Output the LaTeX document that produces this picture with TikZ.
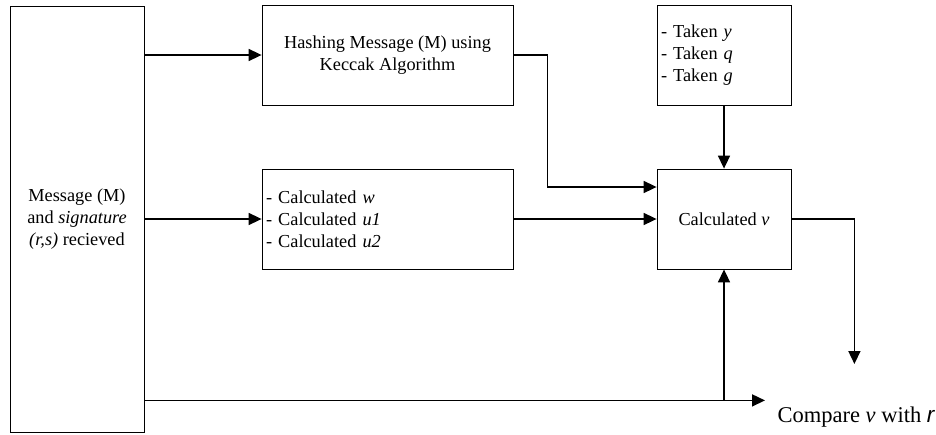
\documentclass[tikz,border=0pt]{standalone}
\usepackage{fontspec}
\setmainfont{Liberation Serif}
\setsansfont{Liberation Sans}
\usepackage{tikz}
\usetikzlibrary{calc,arrows.meta}
\tikzstyle{block} = [draw, line width=0.8pt, minimum height=100pt, inner sep=4pt,
  font=\fontsize{18.3}{22}\selectfont]
\tikzstyle{wide} = [minimum width=251pt]
\tikzstyle{narrow} = [minimum width=134pt]
\tikzstyle{list} = [align=left]
\tikzstyle{flow} = [draw, line width=1.6pt]
\tikzstyle{short} = [node distance = 164pt]
\tikzstyle{terminal} = [draw=none, font=\fontsize{22.5}{27}\selectfont]

\begin{document}
\begin{tikzpicture}[ node distance=310.5pt, >={Triangle[length=13pt,width=12pt]} ]
\useasboundingbox (0,0) rectangle (936pt,-434pt);

% blocks
\node (msg) [block,narrow,align=center,minimum height=426pt] at (77pt,-219pt)
  {Message (M)\\and \textit{signature}\\\textit{(r,s)} recieved};
\node (calcw) [block,list,text width=243pt,right of=msg]
  {- Calculated \textit{w}\\- Calculated \textit{u1}\\- Calculated \textit{u2}};
\node (hash) [block,wide,align=center,short,above of=calcw]
  {Hashing Message (M) using\\Keccak Algorithm};
\node (calcv) [block,narrow,node distance=336.5pt,right of=calcw] {Calculated \textit{v}};
\node (taken) [block,list,text width=126pt,short,above of=calcv]
  {- Taken \textit{y}\\- Taken \textit{q}\\- Taken \textit{g}};
\node (cmp) [terminal,anchor=west] at (774pt,-417pt)
  {Compare \textit{v} with \textsf{\textit{r}}};

% free ends
\coordinate (bstart) at ($(msg.south east)+(0,32pt)$);
\coordinate (bend) at ($(cmp.north west)+(-9pt,0)$);
\coordinate (vout) at ($(calcv.east)+(63pt,-145pt)$);

% edges
\path (msg.east |- hash.west) edge[flow,->] (hash.west);
\path (msg.east |- calcw.west) edge[flow,->] (calcw.west);
\draw[flow,->] (hash.east) -- ++(34pt,0) |- ($(calcv.west)+(0,32pt)$);
\path (calcw.east) edge[flow,->] (calcv.west);
\path (taken.south) edge[flow,->] (calcv.north);
\draw[flow,->] (calcv.east) -| (vout);
\draw[flow,->] (bstart) -- (bstart -| bend);
\draw[flow,->] (calcv.south |- bstart) -- (calcv.south);

\end{tikzpicture}
\end{document}
